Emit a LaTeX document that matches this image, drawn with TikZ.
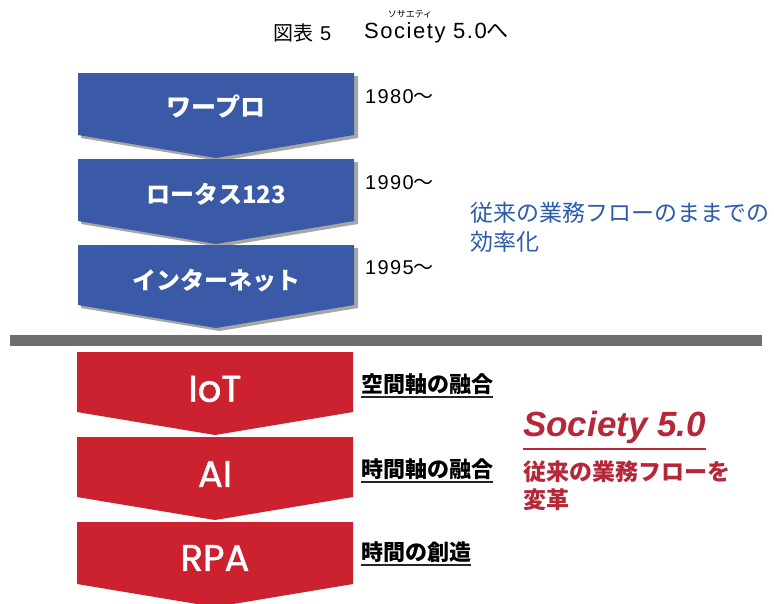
\documentclass[tikz,border=0pt]{standalone}
\usepackage{fontspec}
\setmainfont{Noto Sans CJK JP}
\newfontfamily\popfont{Poppins}[FakeBold=1.2]
\newfontfamily\arialfont{Liberation Sans}
\newfontfamily\widesans{Liberation Sans}[LetterSpace=7]
\definecolor{chevblue}{HTML}{3A5AA8}
\definecolor{chevred}{HTML}{CC2230}
\definecolor{txtblue}{HTML}{2C5BAA}
\definecolor{txtred}{HTML}{B5283A}
\definecolor{bargray}{HTML}{6E6E6E}
% chevron: colour, top y, side-bottom y, tip y, left x, right x
\newcommand\chevshape[6]{%
  \fill[#1] (#5,#2) -- (#6,#2) -- (#6,#3) -- ({(#5+#6)/2},#4) -- (#5,#3) -- cycle;}
\begin{document}
\begin{tikzpicture}[x=1pt,y=-1pt,
  chevtext/.style={text=white,font=\bfseries\fontsize{24}{28}\selectfont,inner sep=0pt},
  ltrtext/.style={text=white,font=\popfont\fontsize{37}{40}\selectfont,inner sep=0pt},
  yeartext/.style={anchor=west,inner sep=0pt,font=\fontsize{20}{22}\selectfont},
  ullabel/.style={anchor=west,inner sep=0pt,font=\bfseries\fontsize{22}{26}\selectfont},
  uline/.style={line width=2pt,black!85}]
\useasboundingbox (0,0) rectangle (774,603);
\clip (0,0) rectangle (774,603);

% title
\node[anchor=west,inner sep=0pt,font=\fontsize{20}{22}\selectfont] (t1) at (273,33) {図表\hspace{7pt}{\widesans 5}};
\node[anchor=west,inner sep=0pt,font=\fontsize{22}{24}\selectfont] (t2) at (364,33) {{\widesans Society 5.0}へ};
\node[inner sep=0pt,font=\fontsize{9}{10}\selectfont] (ruby) at (410,14) {ソサエティ};

% blue chevrons with soft shadow
\foreach \t/\s/\p in {73/135/158,159/221/244,245/305/328}{
  \chevshape{black!35}{\t+3}{\s+3}{\p+3}{81}{358}
  \chevshape{chevblue}{\t}{\s}{\p}{78}{354}
}
\node[chevtext,font=\bfseries\fontsize{25}{28}\selectfont] (wp) at (216,107) {ワープロ};
\node[chevtext] (lotus) at (216,194) {ロータス123};
\node[chevtext] (inet) at (216,281) {インターネット};

\node[yeartext] (y1) at (365,97) {{\widesans 1980}〜};
\node[yeartext] (y2) at (365,183) {{\widesans 1990}〜};
\node[yeartext] (y3) at (365,268) {{\widesans 1995}〜};

\node[anchor=west,inner sep=0pt,text=txtblue,font=\fontsize{23}{29}\selectfont,align=left] (blue) at (470,227) {従来の業務フローのままでの\\効率化};

% divider
\fill[bargray] (10,335) rectangle (762,346);

% red chevrons
\foreach \t/\s/\p in {352/412/435,437/497/520,522/584/607}{
  \chevshape{chevred}{\t}{\s}{\p}{77}{353}
}
\node[ltrtext] (iot) at (215,389) {IoT};
\node[ltrtext] (ai) at (215,474) {AI};
\node[ltrtext] (rpa) at (215,558) {RPA};

\node[ullabel] (l1) at (361,384) {空間軸の融合};
\node[ullabel] (l2) at (361,469) {時間軸の融合};
\node[ullabel] (l3) at (361,552) {時間の創造};
\foreach \n in {l1,l2,l3}
  \draw[uline] ([yshift=-2pt]\n.south west) -- ([yshift=-2pt]\n.south east);

\node[anchor=west,inner sep=0pt,text=txtred,font=\arialfont\bfseries\itshape\fontsize{35}{38}\selectfont] (soc) at (523,427) {Society 5.0};
\draw[line width=2pt,txtred] ([yshift=-5pt]soc.south west) -- ([yshift=-5pt]soc.south east);
\node[anchor=west,inner sep=0pt,text=txtred,font=\bfseries\fontsize{23}{28}\selectfont,align=left] (red) at (523,486) {従来の業務フローを\\変革};
\end{tikzpicture}
\end{document}
